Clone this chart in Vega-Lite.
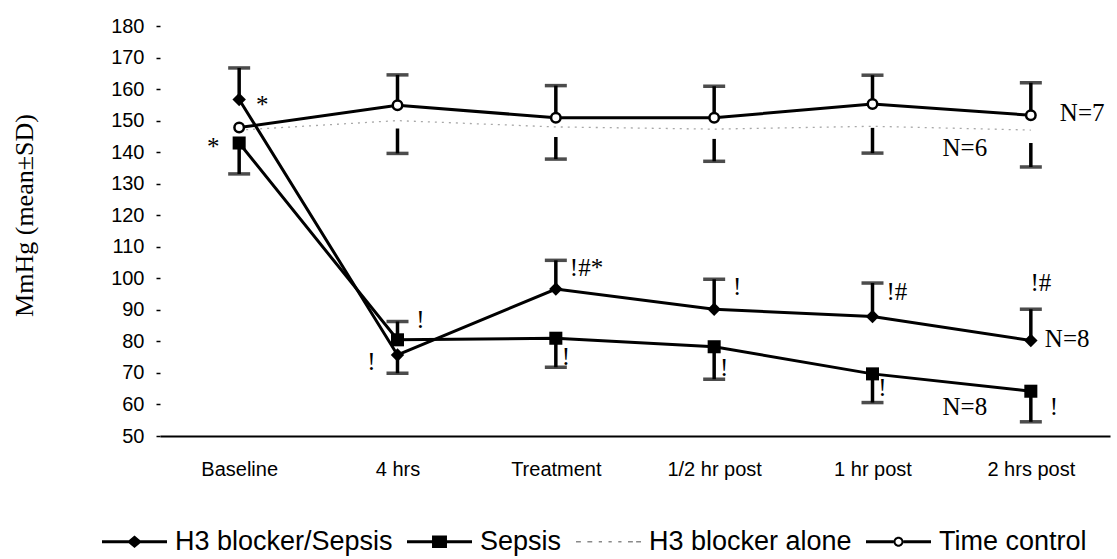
{
  "$schema": "https://vega.github.io/schema/vega-lite/v6.json",
  "width": 950,
  "height": 410,
  "autosize": {"type": "none"},
  "padding": {"left": 160, "top": 26, "right": 7, "bottom": 123},
  "background": "white",
  "config": {
    "view": {"stroke": null},
    "axisY": {
      "domain": false, "grid": false, "tickSize": 4, "tickWidth": 1.5, "tickColor": "black", "tickCount": 14,
      "labelOverlap": false, "labelBound": false, "labelFlush": false,
      "labelFont": "Liberation Sans Narrow, Liberation Sans, sans-serif", "labelFontSize": 20, "labelColor": "black", "labelPadding": 12,
      "titleFont": "Liberation Serif", "titleFontSize": 26, "titleFontWeight": "normal", "titleColor": "black",
      "titleAngle": 270, "titleX": -136, "titleY": 189, "titleBaseline": "middle", "titleAlign": "center"
    },
    "axisX": {
      "domainColor": "black", "domainWidth": 2, "ticks": false, "grid": false, "labelPadding": 23,
      "labelFont": "Liberation Sans", "labelFontSize": 20, "labelColor": "black", "labelAngle": 0
    },
    "legend": {
      "orient": "none", "legendX": -58, "legendY": 483, "direction": "horizontal",
      "symbolSize": 4225, "symbolStrokeWidth": 0, "symbolOpacity": 1,
      "labelFont": "Liberation Sans", "labelFontSize": 27, "labelColor": "black", "labelLimit": 400,
      "labelOffset": 8, "columnPadding": 14
    }
  },
  "datasets": {
    "series": [
      {"t": "Baseline", "s": "H3 blocker/Sepsis", "v": 156.7},
      {"t": "4 hrs", "s": "H3 blocker/Sepsis", "v": 75.7},
      {"t": "Treatment", "s": "H3 blocker/Sepsis", "v": 96.6},
      {"t": "1/2 hr post", "s": "H3 blocker/Sepsis", "v": 90.2},
      {"t": "1 hr post", "s": "H3 blocker/Sepsis", "v": 87.9},
      {"t": "2 hrs post", "s": "H3 blocker/Sepsis", "v": 80.3},
      {"t": "Baseline", "s": "Sepsis", "v": 142.9},
      {"t": "4 hrs", "s": "Sepsis", "v": 80.5},
      {"t": "Treatment", "s": "Sepsis", "v": 81.0},
      {"t": "1/2 hr post", "s": "Sepsis", "v": 78.3},
      {"t": "1 hr post", "s": "Sepsis", "v": 69.7},
      {"t": "2 hrs post", "s": "Sepsis", "v": 64.2},
      {"t": "Baseline", "s": "H3 blocker alone", "v": 147.0},
      {"t": "4 hrs", "s": "H3 blocker alone", "v": 150.0},
      {"t": "Treatment", "s": "H3 blocker alone", "v": 148.0},
      {"t": "1/2 hr post", "s": "H3 blocker alone", "v": 147.3},
      {"t": "1 hr post", "s": "H3 blocker alone", "v": 148.2},
      {"t": "2 hrs post", "s": "H3 blocker alone", "v": 147.0},
      {"t": "Baseline", "s": "Time control", "v": 147.8},
      {"t": "4 hrs", "s": "Time control", "v": 154.9},
      {"t": "Treatment", "s": "Time control", "v": 150.9},
      {"t": "1/2 hr post", "s": "Time control", "v": 150.9},
      {"t": "1 hr post", "s": "Time control", "v": 155.3},
      {"t": "2 hrs post", "s": "Time control", "v": 151.7}
    ],
    "bars": [
      {"t": "Baseline", "s": "H3 blocker/Sepsis", "v1": 156.7, "v2": 166.7},
      {"t": "4 hrs", "s": "H3 blocker/Sepsis", "v1": 75.7, "v2": 69.9},
      {"t": "Treatment", "s": "H3 blocker/Sepsis", "v1": 96.6, "v2": 105.7},
      {"t": "1/2 hr post", "s": "H3 blocker/Sepsis", "v1": 90.2, "v2": 99.7},
      {"t": "1 hr post", "s": "H3 blocker/Sepsis", "v1": 87.9, "v2": 98.5},
      {"t": "2 hrs post", "s": "H3 blocker/Sepsis", "v1": 80.3, "v2": 90.2},
      {"t": "Baseline", "s": "Sepsis", "v1": 142.9, "v2": 133.1},
      {"t": "4 hrs", "s": "Sepsis", "v1": 80.5, "v2": 86.3},
      {"t": "Treatment", "s": "Sepsis", "v1": 81.0, "v2": 71.8},
      {"t": "1/2 hr post", "s": "Sepsis", "v1": 78.3, "v2": 68.0},
      {"t": "1 hr post", "s": "Sepsis", "v1": 69.7, "v2": 60.6},
      {"t": "2 hrs post", "s": "Sepsis", "v1": 64.2, "v2": 54.5},
      {"t": "4 hrs", "s": "Time control", "v1": 154.9, "v2": 164.5},
      {"t": "Treatment", "s": "Time control", "v1": 150.9, "v2": 161.1},
      {"t": "1/2 hr post", "s": "Time control", "v1": 150.9, "v2": 160.9},
      {"t": "1 hr post", "s": "Time control", "v1": 155.3, "v2": 164.4},
      {"t": "2 hrs post", "s": "Time control", "v1": 151.7, "v2": 162.0},
      {"t": "4 hrs", "s": "H3 blocker alone", "v1": 147.5, "v2": 139.6},
      {"t": "Treatment", "s": "H3 blocker alone", "v1": 144.8, "v2": 137.8},
      {"t": "1/2 hr post", "s": "H3 blocker alone", "v1": 144.2, "v2": 137.1},
      {"t": "1 hr post", "s": "H3 blocker alone", "v1": 147.7, "v2": 139.7},
      {"t": "2 hrs post", "s": "H3 blocker alone", "v1": 142.9, "v2": 135.3}
    ]
  },
  "encoding": {
    "x": {
      "field": "t", "type": "ordinal", "title": null,
      "scale": {"type": "point", "padding": 0.5, "domain": ["Baseline", "4 hrs", "Treatment", "1/2 hr post", "1 hr post", "2 hrs post"]}
    }
  },
  "layer": [
    {
      "data": {"name": "series"},
      "transform": [{"filter": "datum.s === 'H3 blocker alone'"}],
      "mark": {"type": "line", "color": "#a8a8a8", "strokeWidth": 1.3, "strokeDash": [2, 5]},
      "encoding": {
        "y": {"field": "v", "type": "quantitative", "title": "MmHg (mean±SD)", "scale": {"domain": [50, 180], "nice": false},
              "axis": {"values": [50, 60, 70, 80, 90, 100, 110, 120, 130, 140, 150, 160, 170, 180], "tickCount": 14}}
      }
    },
    {
      "data": {"name": "bars"},
      "mark": {"type": "rule", "color": "black", "strokeWidth": 3.5},
      "encoding": {
        "y": {"field": "v1", "type": "quantitative", "title": "MmHg (mean±SD)", "scale": {"domain": [50, 180], "nice": false}},
        "y2": {"field": "v2"}
      }
    },
    {
      "data": {"name": "bars"},
      "mark": {"type": "tick", "color": "black", "size": 22, "thickness": 3.5},
      "encoding": {
        "y": {"field": "v2", "type": "quantitative", "title": "MmHg (mean±SD)", "scale": {"domain": [50, 180], "nice": false}}
      }
    },
    {
      "data": {"name": "series"},
      "transform": [{"filter": "datum.s !== 'H3 blocker alone'"}],
      "mark": {"type": "line", "color": "black", "strokeWidth": 3},
      "encoding": {
        "y": {"field": "v", "type": "quantitative", "title": "MmHg (mean±SD)", "scale": {"domain": [50, 180], "nice": false}},
        "detail": {"field": "s"}
      }
    },
    {
      "data": {"name": "series"},
      "transform": [{"filter": "datum.s === 'H3 blocker/Sepsis'"}],
      "mark": {"type": "point", "shape": "diamond", "filled": true, "color": "black", "size": 180, "opacity": 1},
      "encoding": {
        "y": {"field": "v", "type": "quantitative", "title": "MmHg (mean±SD)", "scale": {"domain": [50, 180], "nice": false}}
      }
    },
    {
      "data": {"name": "series"},
      "transform": [{"filter": "datum.s === 'Sepsis'"}],
      "mark": {"type": "point", "shape": "square", "filled": true, "color": "black", "size": 170, "opacity": 1},
      "encoding": {
        "y": {"field": "v", "type": "quantitative", "title": "MmHg (mean±SD)", "scale": {"domain": [50, 180], "nice": false}}
      }
    },
    {
      "data": {"name": "series"},
      "transform": [{"filter": "datum.s === 'Time control'"}],
      "mark": {"type": "point", "shape": "circle", "filled": false, "fill": "white", "stroke": "black", "strokeWidth": 2.5, "size": 90, "opacity": 1},
      "encoding": {
        "y": {"field": "v", "type": "quantitative", "title": "MmHg (mean±SD)", "scale": {"domain": [50, 180], "nice": false}}
      }
    },
    {
      "data": {"name": "series"},
      "transform": [{"filter": "false"}],
      "mark": {"type": "point", "filled": true, "size": 4225},
      "encoding": {
        "y": {"field": "v", "type": "quantitative", "title": "MmHg (mean±SD)", "scale": {"domain": [50, 180], "nice": false}},
        "color": {
          "field": "s", "type": "nominal", "title": null,
          "scale": {"domain": ["H3 blocker/Sepsis", "Sepsis", "H3 blocker alone", "Time control"], "range": ["black", "black", "#8a8a8a", "black"]}
        },
        "shape": {
          "field": "s", "type": "nominal", "title": null,
          "scale": {
            "domain": ["H3 blocker/Sepsis", "Sepsis", "H3 blocker alone", "Time control"],
            "range": [
              "M-1,-0.046H1V0.046H-1Z M0,-0.19L0.23,0L0,0.19L-0.23,0Z",
              "M-1,-0.046H1V0.046H-1Z M-0.23,-0.19H0.23V0.19H-0.23Z",
              "M-1,-0.025H-0.85V0.025H-1Z M-0.65,-0.025H-0.5V0.025H-0.65Z M-0.3,-0.025H-0.2V0.025H-0.3Z M0,-0.025H0.1V0.025H0Z M0.3,-0.025H0.4V0.025H0.3Z M0.6,-0.025H0.75V0.025H0.6Z M0.85,-0.025H1V0.025H0.85Z",
              "M-1,-0.046H-0.154V0.046H-1Z M0.154,-0.046H1V0.046H0.154Z M0.154,0A0.154,0.154 0 1 1 -0.154,0A0.154,0.154 0 1 1 0.154,0Z M0.092,0A0.092,0.092 0 1 0 -0.092,0A0.092,0.092 0 1 0 0.092,0Z"
            ]
          }
        }
      }
    },
    {
      "data": {"values": [
        {"t": "Baseline", "v": 141.6, "label": "*"},
        {"t": "4 hrs", "v": 73.6, "label": "!"}
      ]},
      "mark": {"type": "text", "font": "Liberation Serif", "fontSize": 25, "color": "black", "baseline": "middle", "align": "center", "dx": -26},
      "encoding": {
        "y": {"field": "v", "type": "quantitative", "title": "MmHg (mean±SD)", "scale": {"domain": [50, 180], "nice": false}},
        "text": {"field": "label"}
      }
    },
    {
      "data": {"values": [
        {"t": "Baseline", "v": 155.0, "label": "*"},
        {"t": "4 hrs", "v": 86.8, "label": "!"},
        {"t": "1/2 hr post", "v": 97.4, "label": "!"},
        {"t": "2 hrs post", "v": 59.3, "label": "!"}
      ]},
      "mark": {"type": "text", "font": "Liberation Serif", "fontSize": 25, "color": "black", "baseline": "middle", "align": "center", "dx": 23},
      "encoding": {
        "y": {"field": "v", "type": "quantitative", "title": "MmHg (mean±SD)", "scale": {"domain": [50, 180], "nice": false}},
        "text": {"field": "label"}
      }
    },
    {
      "data": {"values": [
        {"t": "Treatment", "v": 75.0, "label": "!"},
        {"t": "1/2 hr post", "v": 71.5, "label": "!"},
        {"t": "1 hr post", "v": 65.1, "label": "!"},
        {"t": "2 hrs post", "v": 98.5, "label": "!#"}
      ]},
      "mark": {"type": "text", "font": "Liberation Serif", "fontSize": 25, "color": "black", "baseline": "middle", "align": "center", "dx": 10},
      "encoding": {
        "y": {"field": "v", "type": "quantitative", "title": "MmHg (mean±SD)", "scale": {"domain": [50, 180], "nice": false}},
        "text": {"field": "label"}
      }
    },
    {
      "data": {"values": [
        {"t": "Treatment", "v": 103.2, "label": "!#*"},
        {"t": "1 hr post", "v": 95.8, "label": "!#"},
        {"t": "2 hrs post", "v": 80.7, "label": "N=8"}
      ]},
      "mark": {"type": "text", "font": "Liberation Serif", "fontSize": 25, "color": "black", "baseline": "middle", "align": "left", "dx": 14},
      "encoding": {
        "y": {"field": "v", "type": "quantitative", "title": "MmHg (mean±SD)", "scale": {"domain": [50, 180], "nice": false}},
        "text": {"field": "label"}
      }
    },
    {
      "data": {"values": [
        {"t": "2 hrs post", "v": 152.4, "label": "N=7"}
      ]},
      "mark": {"type": "text", "font": "Liberation Serif", "fontSize": 25, "color": "black", "baseline": "middle", "align": "left", "dx": 29},
      "encoding": {
        "y": {"field": "v", "type": "quantitative", "title": "MmHg (mean±SD)", "scale": {"domain": [50, 180], "nice": false}},
        "text": {"field": "label"}
      }
    },
    {
      "data": {"values": [
        {"t": "2 hrs post", "v": 59.1, "label": "N=8"},
        {"t": "2 hrs post", "v": 141.3, "label": "N=6"}
      ]},
      "mark": {"type": "text", "font": "Liberation Serif", "fontSize": 25, "color": "black", "baseline": "middle", "align": "center", "dx": -66},
      "encoding": {
        "y": {"field": "v", "type": "quantitative", "title": "MmHg (mean±SD)", "scale": {"domain": [50, 180], "nice": false}},
        "text": {"field": "label"}
      }
    }
  ]
}
